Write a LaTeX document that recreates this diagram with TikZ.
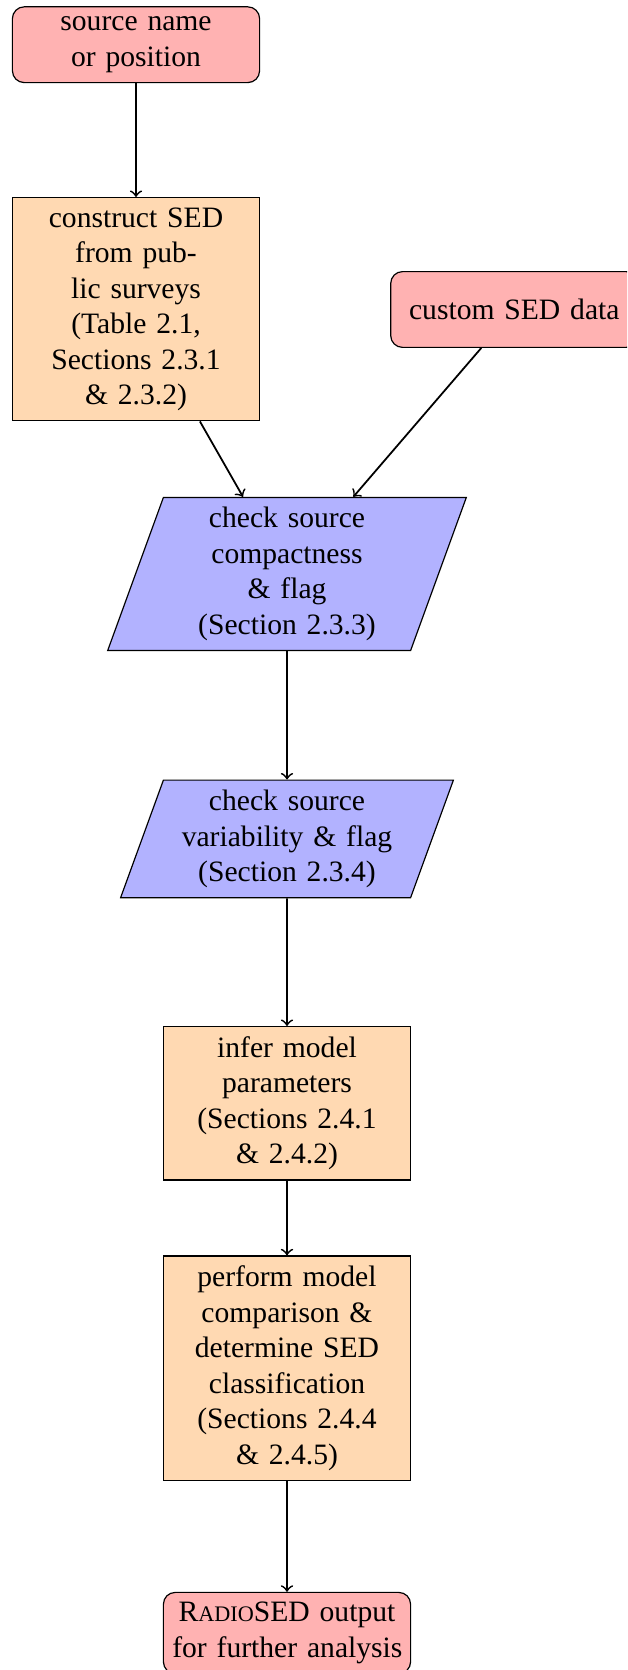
\documentclass[tikz,border=0pt]{standalone}
\usepackage{fontspec}
\setmainfont{Liberation Serif}
\usetikzlibrary{shapes.geometric}
\begin{document}
\begin{tikzpicture}[x=0.3378pt,y=-0.3378pt,
  base/.style={draw=black, text width=77.5pt, inner xsep=3pt, inner ysep=3.33pt, align=center, minimum height=25.6pt, font=\fontsize{10}{12}\selectfont},
  startstop/.style={base, rounded corners=4pt, fill=red!30},
  process/.style={base, fill=orange!30},
  io/.style={base, trapezium, trapezium left angle=70, trapezium right angle=110, fill=blue!30},
  arrow/.style={->, semithick}]
\useasboundingbox (0,0) rectangle (627,1670);
\clip (0,0) rectangle (627,1670);
\node[startstop] (src) at (136,44.7) {source name\\or position};
\node[process] (sed) at (136,309.2) {construct SED\\from pub-\\lic surveys\\(Table 2.1,\\Sections 2.3.1\\\& 2.3.2)};
\node[startstop] (custom) at (514.3,309.5) {custom SED data};
\node[io] (compact) at (287,574) {check source\\compactness\\\& flag\\(Section 2.3.3)};
\node[io] (var) at (287,838.9) {check source\\variability \& flag\\(Section 2.3.4)};
\node[process] (infer) at (287,1103.3) {infer model\\parameters\\(Sections 2.4.1\\\& 2.4.2)};
\node[process] (perform) at (287,1368.2) {perform model\\comparison \&\\determine SED\\classification\\(Sections 2.4.4\\\& 2.4.5)};
\node[startstop] (out) at (287,1633) {\mbox{R{\fontsize{7.5}{9}\selectfont ADIO}SED output}\\\mbox{for further analysis}};
\draw[arrow] (src) -- (sed);
\draw[arrow] (sed) -- (compact);
\draw[arrow] (custom) -- (compact);
\draw[arrow] (compact) -- (var);
\draw[arrow] (var) -- (infer);
\draw[arrow] (infer) -- (perform);
\draw[arrow] (perform) -- (out);
\end{tikzpicture}
\end{document}
